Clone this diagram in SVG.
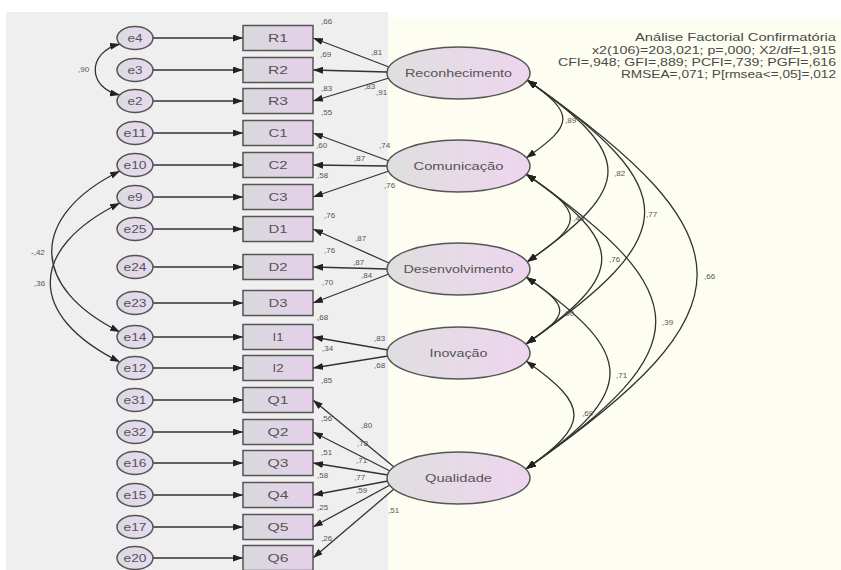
<svg xmlns="http://www.w3.org/2000/svg" width="841" height="570" viewBox="0 0 841 570">
<style>
text{font-family:"Liberation Sans",Arial,sans-serif;fill:#555}
.n{font-size:8px}
.box{stroke:#555;stroke-width:1.5;fill:url(#gBox)}
.err{stroke:#555;stroke-width:1.5;fill:url(#gErr)}
.lat{stroke:#555;stroke-width:1.5;fill:url(#gLat)}
.bl{font-size:11px;text-anchor:middle}
.el{font-size:10px;text-anchor:middle}
.ll{font-size:11px;text-anchor:middle}
.fit{font-size:11px;text-anchor:end;fill:#4a4a4a}
#connectors line,#connectors path{stroke:#333;stroke-width:1.3;fill:none}
.a1{marker-end:url(#ah)}
.a2{marker-start:url(#ah);marker-end:url(#ah)}
</style>
<defs>
<linearGradient id="gBox" x1="0" y1="0" x2="1" y2="0"><stop offset="0" stop-color="#d9d9dd"/><stop offset="1" stop-color="#e5d0ea"/></linearGradient>
<linearGradient id="gLat" x1="0" y1="0" x2="1" y2="0"><stop offset="0" stop-color="#dfdfdf"/><stop offset="1" stop-color="#eed5ee"/></linearGradient>
<linearGradient id="gErr" x1="0" y1="0" x2="1" y2="0"><stop offset="0" stop-color="#dcd9e2"/><stop offset="1" stop-color="#e8daf0"/></linearGradient>
<marker id="ah" viewBox="0 0 10 7" refX="10" refY="3.5" markerWidth="10" markerHeight="7" markerUnits="userSpaceOnUse" orient="auto-start-reverse"><path d="M0,0 L10,3.5 L0,7 z" fill="#222"/></marker>
</defs>
<rect x="0" y="0" width="841" height="570" fill="#ffffff"/>
<rect x="6" y="12" width="382" height="558" fill="#efefef"/>
<rect x="388" y="18" width="453" height="552" fill="#fdfdf1"/>

<g id="fit">
<text class="fit" x="836" y="41" textLength="201" lengthAdjust="spacingAndGlyphs">Análise Factorial Confirmatória</text>
<text class="fit" x="836" y="54" textLength="244" lengthAdjust="spacingAndGlyphs">x2(106)=203,021; p=,000; X2/df=1,915</text>
<text class="fit" x="836" y="66" textLength="278" lengthAdjust="spacingAndGlyphs">CFI=,948; GFI=,889; PCFI=,739; PGFI=,616</text>
<text class="fit" x="836" y="78" textLength="215" lengthAdjust="spacingAndGlyphs">RMSEA=,071; P[rmsea&lt;=,05]=,012</text>
</g>

<g id="connectors">
<!-- error arrows -->
<line class="a1" x1="153" y1="38" x2="243" y2="38"/>
<line class="a1" x1="153" y1="70" x2="243" y2="70"/>
<line class="a1" x1="153" y1="101" x2="243" y2="101"/>
<line class="a1" x1="153" y1="133" x2="243" y2="133"/>
<line class="a1" x1="153" y1="165" x2="243" y2="165"/>
<line class="a1" x1="153" y1="197" x2="243" y2="197"/>
<line class="a1" x1="153" y1="229" x2="243" y2="229"/>
<line class="a1" x1="153" y1="267" x2="243" y2="267"/>
<line class="a1" x1="153" y1="303" x2="243" y2="303"/>
<line class="a1" x1="153" y1="337" x2="243" y2="337"/>
<line class="a1" x1="153" y1="368" x2="243" y2="368"/>
<line class="a1" x1="153" y1="400" x2="243" y2="400"/>
<line class="a1" x1="153" y1="432" x2="243" y2="432"/>
<line class="a1" x1="153" y1="463" x2="243" y2="463"/>
<line class="a1" x1="153" y1="495" x2="243" y2="495"/>
<line class="a1" x1="153" y1="527" x2="243" y2="527"/>
<line class="a1" x1="153" y1="558" x2="243" y2="558"/>
<!-- loadings -->
<line class="a1" x1="389" y1="67" x2="313" y2="38"/>
<line class="a1" x1="387" y1="72" x2="313" y2="70"/>
<line class="a1" x1="389" y1="78" x2="313" y2="101"/>
<line class="a1" x1="389" y1="161" x2="313" y2="133"/>
<line class="a1" x1="387" y1="166" x2="313" y2="165"/>
<line class="a1" x1="389" y1="171" x2="313" y2="197"/>
<line class="a1" x1="389" y1="263" x2="313" y2="229"/>
<line class="a1" x1="387" y1="269" x2="313" y2="267"/>
<line class="a1" x1="389" y1="274" x2="313" y2="303"/>
<line class="a1" x1="388" y1="350" x2="313" y2="337"/>
<line class="a1" x1="388" y1="356" x2="313" y2="368"/>
<line class="a1" x1="394" y1="467" x2="313" y2="400"/>
<line class="a1" x1="390" y1="471" x2="313" y2="432"/>
<line class="a1" x1="388" y1="475" x2="313" y2="463"/>
<line class="a1" x1="388" y1="481" x2="313" y2="495"/>
<line class="a1" x1="390" y1="485" x2="313" y2="527"/>
<line class="a1" x1="394" y1="489" x2="313" y2="558"/>
<!-- left covariances -->
<path class="a2" d="M120,44 C87,52 87,88 120,95"/>
<path class="a2" d="M120,171 C29,216 29,287 120,332"/>
<path class="a2" d="M120,203 C27,249 27,316 120,362"/>
<!-- right covariances -->
<path class="a2" d="M527,80 C575,113.6 575,124.4 526,158"/>
<path class="a2" d="M527,80 C635,155.6 635,186.4 527,262"/>
<path class="a2" d="M527,80 C684,190 684,234 526,344"/>
<path class="a2" d="M527,80 C754,239 754,310 526,469"/>
<path class="a2" d="M526,174 C585,213.6 585,222.4 527,262"/>
<path class="a2" d="M526,174 C627,245 627,273 526,344"/>
<path class="a2" d="M526,174 C699,295 699,348 526,469"/>
<path class="a2" d="M526,277 C571,307 571,314 526,344"/>
<path class="a2" d="M526,277 C638,355 638,391 526,469"/>
<path class="a2" d="M526,361 C590,406 590,424 526,469"/>
</g>

<g id="connector-labels">
<text class="n" x="78" y="72">,90</text>
<text class="n" x="31" y="255">-,42</text>
<text class="n" x="34" y="286">,36</text>
<text class="n" x="565" y="123">,89</text>
<text class="n" x="614" y="176">,82</text>
<text class="n" x="646" y="217">,77</text>
<text class="n" x="704" y="279">,66</text>
<text class="n" x="573" y="221">,49</text>
<text class="n" x="609" y="262">,76</text>
<text class="n" x="662" y="325">,39</text>
<text class="n" x="563" y="316">,90</text>
<text class="n" x="616" y="378">,71</text>
<text class="n" x="582" y="416">,69</text>
<text class="n" x="371" y="55">,81</text>
<text class="n" x="364" y="89">,83</text>
<text class="n" x="376" y="95">,91</text>
<text class="n" x="379" y="148">,74</text>
<text class="n" x="354" y="161">,87</text>
<text class="n" x="384" y="188">,76</text>
<text class="n" x="355" y="241">,87</text>
<text class="n" x="353" y="265">,87</text>
<text class="n" x="361" y="278">,84</text>
<text class="n" x="374" y="341">,83</text>
<text class="n" x="374" y="368">,68</text>
<text class="n" x="361" y="428">,80</text>
<text class="n" x="357" y="446">,78</text>
<text class="n" x="356" y="463">,71</text>
<text class="n" x="354" y="480">,77</text>
<text class="n" x="356" y="493">,59</text>
<text class="n" x="388" y="513">,51</text>
</g>

<g id="r2-labels">
<text class="n" x="321" y="24">,66</text>
<text class="n" x="320" y="57">,69</text>
<text class="n" x="321" y="91">,83</text>
<text class="n" x="321" y="115">,55</text>
<text class="n" x="316" y="148">,60</text>
<text class="n" x="317" y="178">,58</text>
<text class="n" x="324" y="218">,76</text>
<text class="n" x="324" y="253">,76</text>
<text class="n" x="322" y="285">,70</text>
<text class="n" x="317" y="320">,68</text>
<text class="n" x="322" y="351">,34</text>
<text class="n" x="321" y="383">,85</text>
<text class="n" x="321" y="421">,56</text>
<text class="n" x="321" y="455">,51</text>
<text class="n" x="317" y="478">,58</text>
<text class="n" x="317" y="510">,25</text>
<text class="n" x="321" y="541">,26</text>
</g>

<g id="e4"><ellipse class="err" cx="135" cy="38" rx="18" ry="11.5"/><text class="el" x="135" y="42" textLength="15" lengthAdjust="spacingAndGlyphs">e4</text></g>
<g id="e3"><ellipse class="err" cx="135" cy="70" rx="18" ry="11.5"/><text class="el" x="135" y="74" textLength="15" lengthAdjust="spacingAndGlyphs">e3</text></g>
<g id="e2"><ellipse class="err" cx="135" cy="101" rx="18" ry="11.5"/><text class="el" x="135" y="105" textLength="15" lengthAdjust="spacingAndGlyphs">e2</text></g>
<g id="e11"><ellipse class="err" cx="135" cy="133" rx="18" ry="11.5"/><text class="el" x="135" y="137" textLength="23" lengthAdjust="spacingAndGlyphs">e11</text></g>
<g id="e10"><ellipse class="err" cx="135" cy="165" rx="18" ry="11.5"/><text class="el" x="135" y="169" textLength="23" lengthAdjust="spacingAndGlyphs">e10</text></g>
<g id="e9"><ellipse class="err" cx="135" cy="197" rx="18" ry="11.5"/><text class="el" x="135" y="201" textLength="15" lengthAdjust="spacingAndGlyphs">e9</text></g>
<g id="e25"><ellipse class="err" cx="135" cy="229" rx="18" ry="11.5"/><text class="el" x="135" y="233" textLength="23" lengthAdjust="spacingAndGlyphs">e25</text></g>
<g id="e24"><ellipse class="err" cx="135" cy="267" rx="18" ry="11.5"/><text class="el" x="135" y="271" textLength="23" lengthAdjust="spacingAndGlyphs">e24</text></g>
<g id="e23"><ellipse class="err" cx="135" cy="303" rx="18" ry="11.5"/><text class="el" x="135" y="307" textLength="23" lengthAdjust="spacingAndGlyphs">e23</text></g>
<g id="e14"><ellipse class="err" cx="135" cy="337" rx="18" ry="11.5"/><text class="el" x="135" y="341" textLength="23" lengthAdjust="spacingAndGlyphs">e14</text></g>
<g id="e12"><ellipse class="err" cx="135" cy="368" rx="18" ry="11.5"/><text class="el" x="135" y="372" textLength="23" lengthAdjust="spacingAndGlyphs">e12</text></g>
<g id="e31"><ellipse class="err" cx="135" cy="400" rx="18" ry="11.5"/><text class="el" x="135" y="404" textLength="23" lengthAdjust="spacingAndGlyphs">e31</text></g>
<g id="e32"><ellipse class="err" cx="135" cy="432" rx="18" ry="11.5"/><text class="el" x="135" y="436" textLength="23" lengthAdjust="spacingAndGlyphs">e32</text></g>
<g id="e16"><ellipse class="err" cx="135" cy="463" rx="18" ry="11.5"/><text class="el" x="135" y="467" textLength="23" lengthAdjust="spacingAndGlyphs">e16</text></g>
<g id="e15"><ellipse class="err" cx="135" cy="495" rx="18" ry="11.5"/><text class="el" x="135" y="499" textLength="23" lengthAdjust="spacingAndGlyphs">e15</text></g>
<g id="e17"><ellipse class="err" cx="135" cy="527" rx="18" ry="11.5"/><text class="el" x="135" y="531" textLength="23" lengthAdjust="spacingAndGlyphs">e17</text></g>
<g id="e20"><ellipse class="err" cx="135" cy="558" rx="18" ry="11.5"/><text class="el" x="135" y="562" textLength="23" lengthAdjust="spacingAndGlyphs">e20</text></g>

<g id="R1"><rect class="box" x="243" y="25.5" width="70" height="25"/><text class="bl" x="278" y="42" textLength="20" lengthAdjust="spacingAndGlyphs">R1</text></g>
<g id="R2"><rect class="box" x="243" y="57.5" width="70" height="25"/><text class="bl" x="278" y="74" textLength="20" lengthAdjust="spacingAndGlyphs">R2</text></g>
<g id="R3"><rect class="box" x="243" y="88.5" width="70" height="25"/><text class="bl" x="278" y="105" textLength="20" lengthAdjust="spacingAndGlyphs">R3</text></g>
<g id="C1"><rect class="box" x="243" y="120.5" width="70" height="25"/><text class="bl" x="278" y="137" textLength="19" lengthAdjust="spacingAndGlyphs">C1</text></g>
<g id="C2"><rect class="box" x="243" y="152.5" width="70" height="25"/><text class="bl" x="278" y="169" textLength="19" lengthAdjust="spacingAndGlyphs">C2</text></g>
<g id="C3"><rect class="box" x="243" y="184.5" width="70" height="25"/><text class="bl" x="278" y="201" textLength="19" lengthAdjust="spacingAndGlyphs">C3</text></g>
<g id="D1"><rect class="box" x="243" y="216.5" width="70" height="25"/><text class="bl" x="278" y="233" textLength="19" lengthAdjust="spacingAndGlyphs">D1</text></g>
<g id="D2"><rect class="box" x="243" y="254.5" width="70" height="25"/><text class="bl" x="278" y="271" textLength="19" lengthAdjust="spacingAndGlyphs">D2</text></g>
<g id="D3"><rect class="box" x="243" y="290.5" width="70" height="25"/><text class="bl" x="278" y="307" textLength="19" lengthAdjust="spacingAndGlyphs">D3</text></g>
<g id="I1"><rect class="box" x="243" y="324.5" width="70" height="25"/><text class="bl" x="278" y="341" textLength="11" lengthAdjust="spacingAndGlyphs">I1</text></g>
<g id="I2"><rect class="box" x="243" y="355.5" width="70" height="25"/><text class="bl" x="278" y="372" textLength="11" lengthAdjust="spacingAndGlyphs">I2</text></g>
<g id="Q1"><rect class="box" x="243" y="387.5" width="70" height="25"/><text class="bl" x="278" y="404" textLength="21" lengthAdjust="spacingAndGlyphs">Q1</text></g>
<g id="Q2"><rect class="box" x="243" y="419.5" width="70" height="25"/><text class="bl" x="278" y="436" textLength="21" lengthAdjust="spacingAndGlyphs">Q2</text></g>
<g id="Q3"><rect class="box" x="243" y="450.5" width="70" height="25"/><text class="bl" x="278" y="467" textLength="21" lengthAdjust="spacingAndGlyphs">Q3</text></g>
<g id="Q4"><rect class="box" x="243" y="482.5" width="70" height="25"/><text class="bl" x="278" y="499" textLength="21" lengthAdjust="spacingAndGlyphs">Q4</text></g>
<g id="Q5"><rect class="box" x="243" y="514.5" width="70" height="25"/><text class="bl" x="278" y="531" textLength="21" lengthAdjust="spacingAndGlyphs">Q5</text></g>
<g id="Q6"><rect class="box" x="243" y="545.5" width="70" height="25"/><text class="bl" x="278" y="562" textLength="21" lengthAdjust="spacingAndGlyphs">Q6</text></g>

<g id="Reconhecimento"><ellipse class="lat" cx="458.5" cy="73" rx="71.5" ry="26"/><text class="ll" x="458.5" y="77" textLength="107" lengthAdjust="spacingAndGlyphs">Reconhecimento</text></g>
<g id="Comunicacao"><ellipse class="lat" cx="458.5" cy="166" rx="71.5" ry="26"/><text class="ll" x="458.5" y="170" textLength="90" lengthAdjust="spacingAndGlyphs">Comunicação</text></g>
<g id="Desenvolvimento"><ellipse class="lat" cx="458.5" cy="269" rx="71.5" ry="26"/><text class="ll" x="458.5" y="273" textLength="110" lengthAdjust="spacingAndGlyphs">Desenvolvimento</text></g>
<g id="Inovacao"><ellipse class="lat" cx="458.5" cy="353" rx="71.5" ry="26"/><text class="ll" x="458.5" y="357" textLength="58" lengthAdjust="spacingAndGlyphs">Inovação</text></g>
<g id="Qualidade"><ellipse class="lat" cx="458.5" cy="478" rx="71.5" ry="26"/><text class="ll" x="458.5" y="482" textLength="67" lengthAdjust="spacingAndGlyphs">Qualidade</text></g>
</svg>
